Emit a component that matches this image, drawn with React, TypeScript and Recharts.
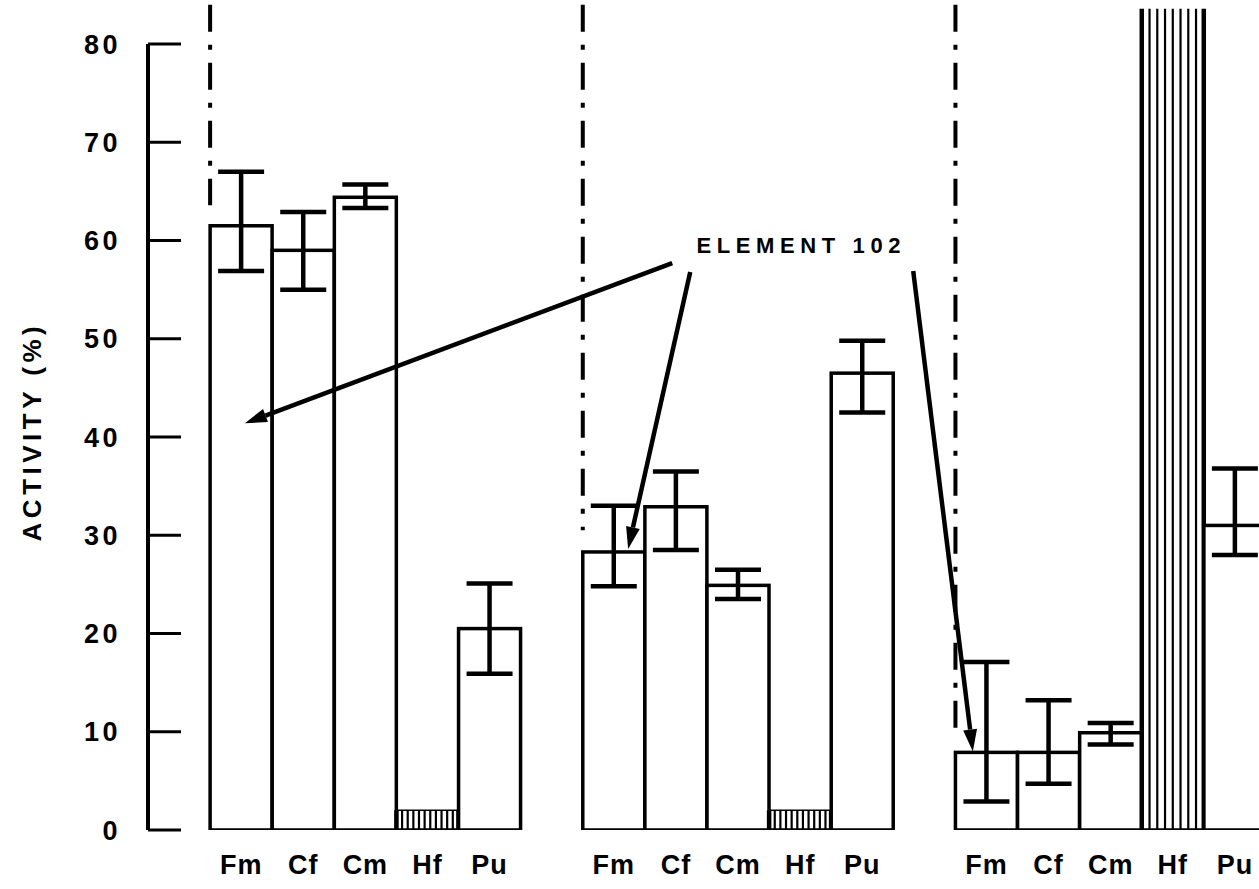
import React from 'react';
import {
  ComposedChart,
  Bar,
  ErrorBar,
  XAxis,
  YAxis,
  ReferenceLine,
  ReferenceDot,
} from 'recharts';

// element order inside each of the three groups
const elements = ['Fm', 'Cf', 'Cm', 'Hf', 'Pu'];

// activity (%) per group
const group1Values = [61.5, 59, 64.4, 2, 20.5];
const group1Low = [56.9, 55, 63.3, null, 15.9];
const group1High = [67, 62.9, 65.7, null, 25.1];

const group2Values = [28.3, 32.9, 24.9, 2, 46.5];
const group2Low = [24.8, 28.5, 23.5, null, 42.5];
const group2High = [33, 36.5, 26.5, null, 49.8];

const group3Values = [7.9, 7.9, 9.9, 83.6, 31];
const group3Low = [2.9, 4.7, 8.7, null, 28];
const group3High = [17.1, 13.2, 10.9, null, 36.8];

const yTicks = [0, 10, 20, 30, 40, 50, 60, 70, 80];
const yTop = 84.48;

// dash-dot separators: slot index, lowest value reached
const dividerSlots = [1, 7, 13];
const dividerBottoms = [63.6, 30.5, 10.4];
const dividerTop = 84;

// "ELEMENT 102" arrows in (slot, value) units
const arrowStarts = [
  [8.44, 57.7],
  [8.73, 56.8],
  [12.32, 56.9],
];
const arrowEnds = [
  [1.56, 41.4],
  [7.73, 28.6],
  [13.28, 8.0],
];
const noteLabel = 'ELEMENT 102';
const notePos = [10.47, 59.5];

const groups = [
  { values: group1Values, low: group1Low, high: group1High },
  { values: group2Values, low: group2Low, high: group2High },
  { values: group3Values, low: group3Low, high: group3High },
];

const data: any[] = [];
groups.forEach((g, gi) => {
  data.push({ key: `gap${gi}`, el: '', value: null });
  elements.forEach((el, i) => {
    const v = g.values[i];
    const lo = g.low[i];
    const hi = g.high[i];
    data.push({
      key: `${gi}-${el}`,
      el,
      value: v,
      err: lo != null && hi != null ? [v - lo, hi - v] : undefined,
    });
  });
});

// the hidden numeric x axis runs over point indexes 0..N-1 across the plot,
// so slot units (0..N) are rescaled onto it
const N = data.length;
const sx = (s: number) => (s * (N - 1)) / N;

const FONT = '"Liberation Sans", Arial, Helvetica, sans-serif';

const BarShape = (props: any) => {
  const { x, y, width, height, payload } = props;
  if (height == null || isNaN(height)) return null;
  if (payload.el === 'Hf') {
    const step = height > 100 ? 7 : 5.5;
    const lines = [];
    const n = Math.floor(width / step);
    for (let i = 1; i < n; i++) {
      const lx = x + (width * i) / n;
      lines.push(<line key={i} x1={lx} x2={lx} y1={y} y2={y + height} stroke="#000" strokeWidth={2.2} />);
    }
    return (
      <g>
        <rect x={x} y={y} width={width} height={height} fill="#fff" />
        {lines}
        <line x1={x} x2={x} y1={y} y2={y + height} stroke="#000" strokeWidth={4.5} />
        <line x1={x + width} x2={x + width} y1={y} y2={y + height} stroke="#000" strokeWidth={4.5} />
        <line x1={x} x2={x + width} y1={y + height} y2={y + height} stroke="#000" strokeWidth={3.5} />
        {height < 100 && <line x1={x} x2={x + width} y1={y} y2={y} stroke="#000" strokeWidth={1.5} />}
      </g>
    );
  }
  return <rect x={x} y={y} width={width} height={height} fill="#fff" stroke="#000" strokeWidth={3.5} />;
};

const YTick = (props: any) => {
  const { x, y, payload } = props;
  return (
    <g>
      <line x1={x} x2={x + 33} y1={y} y2={y} stroke="#000" strokeWidth={3} />
      <text
        x={x - 27}
        y={y}
        dy={9.5}
        textAnchor="end"
        fontFamily={FONT}
        fontWeight="bold"
        fontSize={27}
        letterSpacing={3.5}
        fill="#000"
      >
        {payload.value}
      </text>
    </g>
  );
};

const XTick = (props: any) => {
  const { x, y, payload } = props;
  const key = String(payload.value);
  const label = key.includes('-') ? key.split('-')[1] : '';
  return (
    <text
      x={x}
      y={y + 44}
      textAnchor="middle"
      fontFamily={FONT}
      fontWeight="bold"
      fontSize={27}
      letterSpacing={1}
      fill="#000"
    >
      {label}
    </text>
  );
};

const YLabel = (props: any) => {
  const vb = props.viewBox || { x: 0, y: 0, width: 148, height: 830 };
  const cx = vb.x + 32;
  const cy = vb.y + vb.height * 0.52;
  return (
    <text
      x={cx}
      y={cy}
      transform={`rotate(-90, ${cx}, ${cy})`}
      textAnchor="middle"
      dominantBaseline="central"
      fontFamily={FONT}
      fontWeight="bold"
      fontSize={26}
      letterSpacing={4.5}
      fill="#000"
    >
      ACTIVITY (%)
    </text>
  );
};

const Arrow = (props: any) => {
  const { x1, y1, x2, y2 } = props;
  if ([x1, y1, x2, y2].some((v) => v == null || isNaN(v))) return null;
  const ang = Math.atan2(y2 - y1, x2 - x1);
  const len = 22;
  const hw = 7;
  const bx = x2 - len * Math.cos(ang);
  const by = y2 - len * Math.sin(ang);
  const pts = `${x2},${y2} ${bx + hw * Math.sin(ang)},${by - hw * Math.cos(ang)} ${bx - hw * Math.sin(ang)},${by + hw * Math.cos(ang)}`;
  return (
    <g>
      <line x1={x1} y1={y1} x2={bx} y2={by} stroke="#000" strokeWidth={4.5} />
      <polygon points={pts} fill="#000" />
    </g>
  );
};

const NoteText = (props: any) => {
  const { cx, cy } = props;
  return (
    <text
      x={cx + 3}
      y={cy}
      textAnchor="middle"
      dominantBaseline="central"
      fontFamily={FONT}
      fontWeight="bold"
      fontSize={22}
      letterSpacing={5.6}
      fill="#000"
    >
      {noteLabel}
    </text>
  );
};

export default function App() {
  return (
    <div
      style={{
        position: 'absolute',
        left: 0,
        top: 0,
        width: 1259,
        height: 889,
        overflow: 'hidden',
        background: '#fff',
      }}
    >
      <ComposedChart
        width={1266}
        height={889}
        data={data}
        margin={{ top: 0, right: 0, bottom: 0, left: 0 }}
        barCategoryGap={0}
        barGap={0}
      >
        <XAxis
          xAxisId="c"
          dataKey="key"
          type="category"
          height={59}
          axisLine={false}
          tickLine={false}
          tickSize={0}
          tickMargin={0}
          interval={0}
          tick={<XTick />}
        />
        <XAxis xAxisId="n" type="number" domain={[0, N - 1]} hide allowDataOverflow />
        <YAxis
          type="number"
          width={148}
          domain={[0, yTop]}
          ticks={yTicks}
          allowDataOverflow
          axisLine={false}
          tickLine={false}
          tickSize={0}
          tickMargin={0}
          tick={<YTick />}
          label={{ content: <YLabel /> }}
        />
        <Bar dataKey="value" xAxisId="c" isAnimationActive={false} shape={BarShape}>
          <ErrorBar dataKey="err" width={23} strokeWidth={4.5} stroke="#000" direction="y" />
        </Bar>

        <ReferenceLine
          xAxisId="n"
          segment={[
            { x: 0, y: yTicks[0] },
            { x: 0, y: yTicks[yTicks.length - 1] },
          ]}
          stroke="#000"
          strokeWidth={4}
        />
        {dividerSlots.map((s, i) => (
          <ReferenceLine
            key={`d${i}`}
            xAxisId="n"
            segment={[
              { x: sx(s), y: dividerTop },
              { x: sx(s), y: dividerBottoms[i] },
            ]}
            stroke="#000"
            strokeWidth={4}
            strokeDasharray="27 13 5 13"
          />
        ))}
        {arrowStarts.map((a, i) => (
          <ReferenceLine
            key={`a${i}`}
            xAxisId="n"
            segment={[
              { x: sx(a[0]), y: a[1] },
              { x: sx(arrowEnds[i][0]), y: arrowEnds[i][1] },
            ]}
            shape={Arrow}
          />
        ))}
        <ReferenceDot xAxisId="n" x={sx(notePos[0])} y={notePos[1]} r={0} shape={NoteText} />
      </ComposedChart>
    </div>
  );
}
